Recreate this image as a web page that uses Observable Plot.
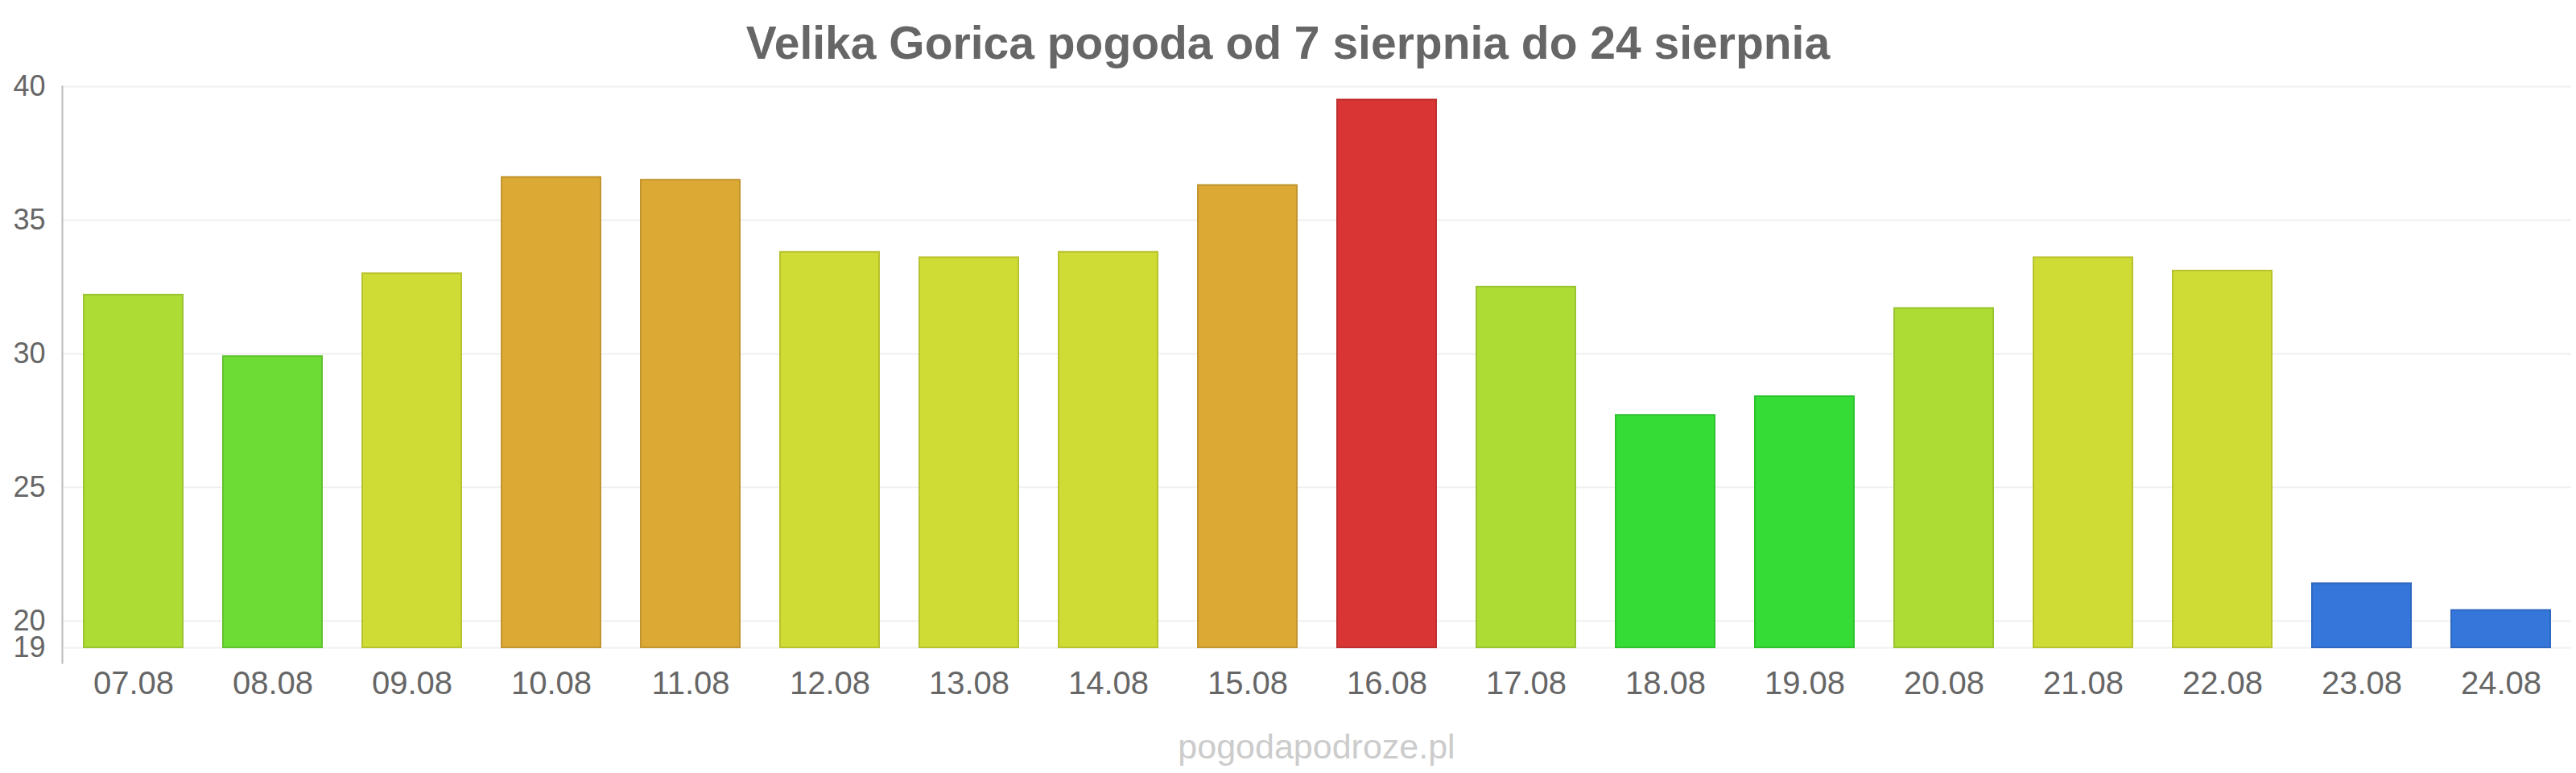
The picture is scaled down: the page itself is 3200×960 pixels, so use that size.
<!DOCTYPE html>
<html>
<head>
<meta charset="utf-8">
<script src="https://cdn.jsdelivr.net/npm/d3@7"></script>
<script src="https://cdn.jsdelivr.net/npm/@observablehq/plot@0.6"></script>
<style>
  html, body { margin: 0; padding: 0; background: #fff; }
  body { width: 3200px; height: 960px; overflow: hidden; font-family: "Liberation Sans", Arial, sans-serif; }
  #title { height: 80px; line-height: 106px; text-align: center; font-size: 57px; font-weight: bold; color: #666; white-space: nowrap; }
  #chart svg { display: block; }
  #credit { height: 60px; line-height: 55px; font-size: 43px; color: #ccc; white-space: nowrap; padding-left: 77px; width: 3117px; text-align: center; }
</style>
</head>
<body>
<div id="title">Velika Gorica pogoda od 7 sierpnia do 24 sierpnia</div>
<div id="chart"></div>
<div id="credit">pogodapodroze.pl</div>
<script>
const dates = ["07.08","08.08","09.08","10.08","11.08","12.08","13.08","14.08","15.08","16.08","17.08","18.08","19.08","20.08","21.08","22.08","23.08","24.08"];
const temps = [32.2, 29.9, 33.0, 36.6, 36.5, 33.8, 33.6, 33.8, 36.3, 39.5, 32.5, 27.7, 28.4, 31.7, 33.6, 33.1, 21.4, 20.4];
const colors = ["#addd35","#6ddc35","#cfdc35","#dca935","#dca935","#cfdc35","#cfdc35","#cfdc35","#dca935","#da3535","#addd35","#35dc35","#35dc35","#addd35","#cfdc35","#cfdc35","#3576da","#3576da"];
const yTicks = [19, 20, 25, 30, 35, 40];
const yMin = 19, yMax = 40;

const data = dates.map((d, i) => ({date: d, temp: temps[i], fill: colors[i], stroke: d3.color(colors[i]).darker(0.35).formatHex()}));

const chart = Plot.plot({
  width: 3200,
  height: 820,
  marginTop: 27,
  marginBottom: 77,
  marginLeft: 77,
  marginRight: 6,
  style: {fontFamily: "'Liberation Sans', Arial, sans-serif", color: "#666", background: "#fff"},
  x: {domain: dates, paddingInner: 0.29, paddingOuter: 0.145, label: null},
  y: {domain: [yMin, yMax], insetBottom: 19, label: null},
  color: {type: "identity"},
  marks: [
    Plot.gridY(yTicks, {stroke: "#f0f0f0", strokeOpacity: 1, strokeWidth: 2}),
    Plot.barY(data, {x: "date", y1: yMin, y2: "temp", fill: "fill", stroke: "stroke", strokeWidth: 2}),
    Plot.frame({anchor: "left", stroke: "#bbbbbb", strokeWidth: 2}),
    Plot.axisY(yTicks, {tickSize: 0, tickPadding: 21, fontSize: 36, fill: "#666", label: null}),
    Plot.axisX({tickSize: 0, tickPadding: 10, fontSize: 40, fill: "#666", label: null})
  ]
});
document.getElementById("chart").appendChild(chart);
</script>
</body>
</html>
